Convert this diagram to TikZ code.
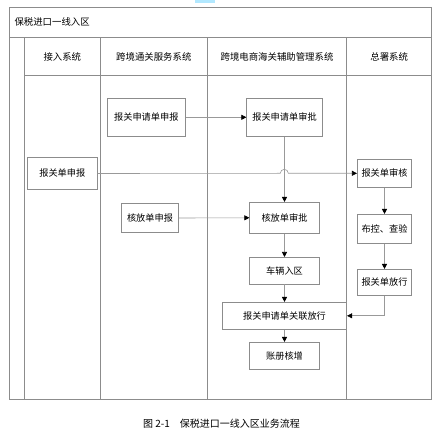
\documentclass[tikz,border=0pt]{standalone}
\usepackage{fontspec}
\setmainfont{Noto Sans CJK SC}
\usetikzlibrary{arrows.meta}
\begin{document}
\begin{tikzpicture}[x=1pt,y=-1pt,
  frame/.style={draw=black!45,line width=0.7pt},
  box/.style={draw=black!45,fill=white,line width=0.7pt,inner sep=0pt,font=\fontsize{9.2}{11}\selectfont},
  flow/.style={draw=black!40,line width=0.6pt,-{Triangle[length=5pt,width=5pt,color=black]}},
  hdr/.style={font=\fontsize{9.4}{11}\selectfont}]
\useasboundingbox (0,0) rectangle (445,435);
\fill[blue!30!cyan!30] (195,0) rectangle (215,3);
% frame
\draw[frame] (9.5,7.3) rectangle (431.7,399.3);
\draw[frame] (9.5,37.3) -- (431.7,37.3);
\draw[frame] (24.3,75.3) -- (431.7,75.3);
\draw[frame] (24.3,37.3) -- (24.3,399.3);
\draw[frame] (100.3,37.3) -- (100.3,399.3);
\draw[frame] (207.3,37.3) -- (207.3,399.3);
\draw[frame] (346.7,37.3) -- (346.7,399.3);
\node[hdr,anchor=west] (title) at (11,22.3) {保税进口一线入区};
\node[hdr] (h1) at (62.3,56.5) {接入系统};
\node[hdr] (h2) at (153.8,56.5) {跨境通关服务系统};
\node[hdr] (h3) at (277,56.5) {跨境电商海关辅助管理系统};
\node[hdr] (h4) at (389.2,56.5) {总署系统};
% boxes
\node[box,minimum width=78pt,minimum height=38pt] (sqsb) at (146.3,117.3) {报关申请单申报};
\node[box,minimum width=75.6pt,minimum height=38pt] (sqsp) at (284.5,117.3) {报关申请单审批};
\node[box,minimum width=70pt,minimum height=31.6pt] (bgsb) at (62.3,173.5) {报关单申报};
\node[box,minimum width=54.4pt,minimum height=28.7pt] (bgsh) at (384.5,173.3) {报关单审核};
\node[box,minimum width=57.4pt,minimum height=29.4pt] (hfsb) at (150,218) {核放单申报};
\node[box,minimum width=69.6pt,minimum height=31pt] (hfsp) at (284.5,217.8) {核放单审批};
\node[box,minimum width=54.4pt,minimum height=29.4pt] (bkcy) at (384.5,229) {布控、查验};
\node[box,minimum width=69.6pt,minimum height=26.7pt] (clrq) at (284.5,270.7) {车辆入区};
\node[box,minimum width=54.4pt,minimum height=26pt] (bgfx) at (384.5,282.3) {报关单放行};
\node[box,minimum width=124.4pt,minimum height=27pt] (glfx) at (284.5,315.8) {报关申请单关联放行};
\node[box,minimum width=69.6pt,minimum height=27pt] (zchz) at (284.5,355.8) {账册核增};
% connectors
\draw[flow] (sqsb.east) -- (sqsp.west);
\draw[flow] (sqsp.south) -- (hfsp.north);
\coordinate (j1) at (280.3,173.3);
\draw[flow] (bgsb.east) -- (j1) arc[start angle=180,end angle=0,radius=4pt] -- (bgsh.west);
\draw[flow] (hfsb.east) -- (hfsp.west);
\draw[flow] (hfsp.south) -- (clrq.north);
\draw[flow] (clrq.south) -- (glfx.north);
\draw[flow] (glfx.south) -- (zchz.north);
\draw[flow] (bgsh.south) -- (bkcy.north);
\draw[flow] (bkcy.south) -- (bgfx.north);
\draw[flow] (bgfx.south) |- (glfx.east);
\node[font=\fontsize{10}{12}\selectfont] (cap) at (221.5,423.5) {图 2-1\quad 保税进口一线入区业务流程};
\end{tikzpicture}
\end{document}
